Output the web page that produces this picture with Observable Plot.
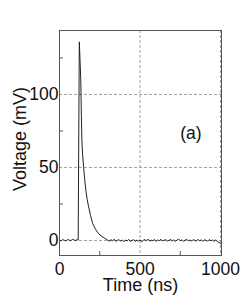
<!DOCTYPE html>
<html>
<head>
<meta charset="utf-8">
<script src="https://cdn.jsdelivr.net/npm/d3@7"></script>
<script src="https://cdn.jsdelivr.net/npm/@observablehq/plot@0.6"></script>
<style>
  html, body { margin: 0; padding: 0; background: #fff; }
</style>
</head>
<body>
<div id="chart"></div>
<script>
// Time axis samples (ns)
const times = [0,10,20,30,40,50,60,70,80,90,100,110,116,123,128,132,136,139,144,150,157,164,172,181,193,206,224,243,265,287,300,
  310,320,330,340,350,360,370,380,390,400,
  410,420,430,440,450,460,470,480,490,500,
  510,520,530,540,550,560,570,580,590,600,
  610,620,630,640,650,660,670,680,690,700,
  710,720,730,740,750,760,770,780,790,800,
  810,820,830,840,850,860,870,880,890,900,
  910,920,930,940,950,960,970,980,990,1000];
// Voltage samples (mV)
const volts = [0.4,-0.3,0.6,0.1,-0.4,0.7,0.2,-0.2,0.9,0.3,-0.1,0.5,0.3,136,122,110,85,68,58,50,41,34,28,23,17,11.6,7.6,4.6,2.6,1.1,0.2,
  -0.4,0.5,-0.2,0.8,-0.6,0.1,0.6,-0.5,0.2,-0.8,
  0.3,-0.3,0.7,-0.6,0.0,0.5,-0.7,0.2,-0.4,0.4,
  -0.9,0.1,0.6,-0.3,0.9,-0.5,0.2,-0.2,0.7,-0.6,
  0.3,-0.1,0.8,-0.4,0.2,0.6,-0.5,0.1,0.7,-0.3,
  0.4,-0.7,0.3,0.9,-0.2,0.5,-0.6,0.2,0.8,-0.3,
  0.3,-0.5,0.6,0.0,-0.4,0.7,-0.2,0.4,-0.6,0.5,
  0.1,-0.5,0.6,-0.2,0.3,-0.6,0.4,-0.8,-1.3,-2.2];

const xMajorTicks = [0, 500, 1000];
const xMinorTicks = [250, 750];
const yMajorTicks = [0, 50, 100];
const yMinorTicks = [25, 75, 125];
const xGrid = [500, 1000];
const yGrid = [0, 50, 100];
const xTitle = "Time (ns)";
const yTitle = "Voltage (mV)";
const panelLabel = [{t: 816, v: 73, text: "(a)"}];

const data = times.map((t, i) => ({t, v: volts[i]}));

const font = "'Liberation Sans', Arial, Helvetica, sans-serif";
const fmt = d3.format("d");

const chart = Plot.plot({
  width: 241,
  height: 303,
  marginLeft: 59,
  marginRight: 20,
  marginTop: 30,
  marginBottom: 48,
  style: {fontFamily: font, fontSize: "17px", background: "#fff", color: "#111"},
  x: {domain: [0, 1006], label: null},
  y: {domain: [-10.3, 143.8], label: null},
  marks: [
    Plot.gridY(yGrid, {stroke: "#888", strokeOpacity: 0.8, strokeDasharray: "3,2"}),
    Plot.gridX(xGrid, {stroke: "#888", strokeOpacity: 0.8, strokeDasharray: "3,2"}),
    Plot.axisY(yMinorTicks, {tickSize: 4, dx: 4, text: null, stroke: "#555", label: null}),
    Plot.axisX(xMinorTicks, {tickSize: 4, dy: -4, text: null, stroke: "#555", label: null}),
    Plot.axisY(yMajorTicks, {tickSize: 0, tickPadding: 1, fontSize: 17.5, fill: "#111", label: null, tickFormat: fmt}),
    Plot.axisX(xMajorTicks, {tickSize: 0, tickPadding: 7, fontSize: 17.5, fill: "#111", label: null, tickFormat: fmt}),
    Plot.line(data, {x: "t", y: "v", stroke: "#222", strokeWidth: 1}),
    Plot.frame({stroke: "#555"}),
    Plot.text(panelLabel, {x: "t", y: "v", text: "text", fontSize: 17.5, fill: "#111"}),
    Plot.text([xTitle], {frameAnchor: "bottom", textAnchor: "middle", lineAnchor: "middle", dy: 29.5, fontSize: 18, fill: "#111", text: d => d}),
    Plot.text([yTitle], {frameAnchor: "left", textAnchor: "middle", lineAnchor: "middle", dx: -39, dy: -4, rotate: -90, fontSize: 18, fill: "#111", text: d => d})
  ]
});

document.getElementById("chart").appendChild(chart);
</script>
</body>
</html>
